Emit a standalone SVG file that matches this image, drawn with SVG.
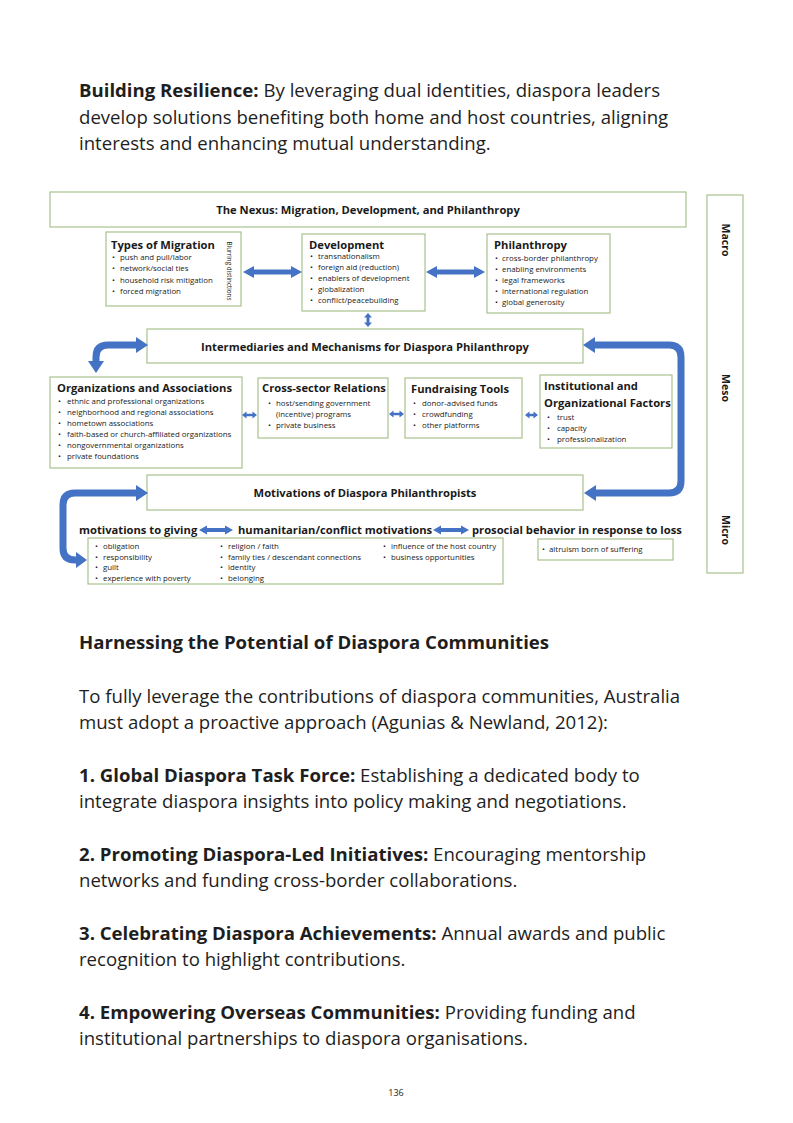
<svg xmlns="http://www.w3.org/2000/svg" width="793" height="1123" viewBox="0 0 793 1123">
<style>
.body{font-family:"Open Sans","Liberation Sans",sans-serif;font-size:18.6px;fill:#1e1e1e}
.b{font-weight:700}
.box{fill:#fff;stroke:#a9c28e;stroke-width:1.2}
.t{font-family:"Open Sans","Liberation Sans",sans-serif;font-size:11.2px;font-weight:700;fill:#1a1a1a}
.s{font-family:"Open Sans","Liberation Sans",sans-serif;font-size:7.85px;fill:#222}
.lv{font-family:"Open Sans","Liberation Sans",sans-serif;font-size:10.5px;font-weight:700;fill:#1a1a1a}
.ar{fill:#4472c4}
.ln{fill:none;stroke:#4472c4;stroke-width:7}
</style>
<rect width="793" height="1123" fill="#fff"/>

<g id="text-top" class="body">
<text x="79" y="97"><tspan class="b">Building Resilience:</tspan> By leveraging dual identities, diaspora leaders</text>
<text x="79" y="123.5">develop solutions benefiting both home and host countries, aligning</text>
<text x="79" y="150">interests and enhancing mutual understanding.</text>
</g>

<g id="levels">
<rect class="box" x="707" y="195" width="36" height="378"/>
<text class="lv" transform="translate(721.5,240) rotate(90)" text-anchor="middle">Macro</text>
<text class="lv" transform="translate(721.5,388) rotate(90)" text-anchor="middle">Meso</text>
<text class="lv" transform="translate(721.5,530) rotate(90)" text-anchor="middle">Micro</text>
</g>

<g id="nexus">
<rect class="box" x="50" y="192" width="636" height="35"/>
<text class="t" x="368" y="214" text-anchor="middle">The Nexus: Migration, Development, and Philanthropy</text>
</g>

<g id="types">
<rect class="box" x="106" y="232" width="135" height="74"/>
<text class="t" x="111" y="249">Types of Migration</text>
<text class="s" x="112" y="260">•</text><text class="s" x="120" y="260">push and pull/labor</text>
<text class="s" x="112" y="271">•</text><text class="s" x="120" y="271">network/social ties</text>
<text class="s" x="112" y="282.5">•</text><text class="s" x="120" y="282.5">household risk mitigation</text>
<text class="s" x="112" y="294">•</text><text class="s" x="120" y="294">forced migration</text>
<text class="s" style="font-size:6.3px" transform="translate(227,271) rotate(90)" text-anchor="middle">Blurring distinctions</text>
</g>

<g id="development">
<rect class="box" x="302" y="234" width="123" height="77"/>
<text class="t" x="309" y="249">Development</text>
<text class="s" x="310" y="259">•</text><text class="s" x="318" y="259">transnationalism</text>
<text class="s" x="310" y="270">•</text><text class="s" x="318" y="270">foreign aid (reduction)</text>
<text class="s" x="310" y="281">•</text><text class="s" x="318" y="281">enablers of development</text>
<text class="s" x="310" y="292">•</text><text class="s" x="318" y="292">globalization</text>
<text class="s" x="310" y="303">•</text><text class="s" x="318" y="303">conflict/peacebuilding</text>
</g>

<g id="philanthropy">
<rect class="box" x="487" y="234" width="123" height="79"/>
<text class="t" x="494" y="249">Philanthropy</text>
<text class="s" x="495" y="261">•</text><text class="s" x="502" y="261">cross-border philanthropy</text>
<text class="s" x="495" y="272">•</text><text class="s" x="502" y="272">enabling environments</text>
<text class="s" x="495" y="283">•</text><text class="s" x="502" y="283">legal frameworks</text>
<text class="s" x="495" y="294">•</text><text class="s" x="502" y="294">international regulation</text>
<text class="s" x="495" y="305">•</text><text class="s" x="502" y="305">global generosity</text>
</g>

<g id="intermediaries">
<rect class="box" x="147" y="329" width="436" height="34"/>
<text class="t" x="365" y="350.5" text-anchor="middle">Intermediaries and Mechanisms for Diaspora Philanthropy</text>
</g>

<g id="organizations">
<rect class="box" x="50" y="377" width="192" height="91"/>
<text class="t" x="57" y="392">Organizations and Associations</text>
<text class="s" x="58" y="403.5">•</text><text class="s" x="67" y="403.5">ethnic and professional organizations</text>
<text class="s" x="58" y="414.5">•</text><text class="s" x="67" y="414.5">neighborhood and regional associations</text>
<text class="s" x="58" y="425.5">•</text><text class="s" x="67" y="425.5">hometown associations</text>
<text class="s" x="58" y="437">•</text><text class="s" x="67" y="437">faith-based or church-affiliated organizations</text>
<text class="s" x="58" y="448">•</text><text class="s" x="67" y="448">nongovernmental organizations</text>
<text class="s" x="58" y="459">•</text><text class="s" x="67" y="459">private foundations</text>
</g>

<g id="cross-sector">
<rect class="box" x="258" y="378" width="130" height="60"/>
<text class="t" x="262" y="392">Cross-sector Relations</text>
<text class="s" x="268" y="405.5">•</text><text class="s" x="276" y="405.5">host/sending government</text>
<text class="s" x="276" y="416.5">(incentive) programs</text>
<text class="s" x="268" y="427.5">•</text><text class="s" x="276" y="427.5">private business</text>
</g>

<g id="fundraising">
<rect class="box" x="405" y="378" width="117" height="60"/>
<text class="t" x="411" y="392.5">Fundraising Tools</text>
<text class="s" x="413" y="405.5">•</text><text class="s" x="422" y="405.5">donor-advised funds</text>
<text class="s" x="413" y="416.5">•</text><text class="s" x="422" y="416.5">crowdfunding</text>
<text class="s" x="413" y="428">•</text><text class="s" x="422" y="428">other platforms</text>
</g>

<g id="institutional">
<rect class="box" x="540" y="375" width="132" height="73"/>
<text class="t" x="544" y="389.5">Institutional and</text>
<text class="t" x="544" y="406.5">Organizational Factors</text>
<text class="s" x="547" y="419.5">•</text><text class="s" x="557" y="419.5">trust</text>
<text class="s" x="547" y="430.5">•</text><text class="s" x="557" y="430.5">capacity</text>
<text class="s" x="547" y="441.5">•</text><text class="s" x="557" y="441.5">professionalization</text>
</g>

<g id="motivations">
<rect class="box" x="147" y="475" width="436" height="35"/>
<text class="t" x="365" y="496.5" text-anchor="middle">Motivations of Diaspora Philanthropists</text>
</g>

<g id="motivation-types">
<text class="t" x="79" y="534">motivations to giving</text>
<text class="t" x="238" y="534">humanitarian/conflict motivations</text>
<text class="t" x="472" y="534">prosocial behavior in response to loss</text>
</g>

<g id="motivation-list">
<rect class="box" x="88" y="538" width="415" height="46"/>
<text class="s" x="95" y="548.5">•</text><text class="s" x="103" y="548.5">obligation</text>
<text class="s" x="95" y="559.5">•</text><text class="s" x="103" y="559.5">responsibility</text>
<text class="s" x="95" y="570">•</text><text class="s" x="103" y="570">guilt</text>
<text class="s" x="95" y="580.5">•</text><text class="s" x="103" y="580.5">experience with poverty</text>
<text class="s" x="220" y="548.5">•</text><text class="s" x="228" y="548.5">religion / faith</text>
<text class="s" x="220" y="559.5">•</text><text class="s" x="228" y="559.5">family ties / descendant connections</text>
<text class="s" x="220" y="570">•</text><text class="s" x="228" y="570">identity</text>
<text class="s" x="220" y="580.5">•</text><text class="s" x="228" y="580.5">belonging</text>
<text class="s" x="383" y="548.5">•</text><text class="s" x="391" y="548.5">influence of the host country</text>
<text class="s" x="383" y="559.5">•</text><text class="s" x="391" y="559.5">business opportunities</text>
</g>

<g id="altruism">
<rect class="box" x="538" y="539" width="135" height="21"/>
<text class="s" x="542" y="551.5">•</text><text class="s" x="549" y="551.5">altruism born of suffering</text>
</g>

<g id="connectors">
<polygon class="ar" points="243,272 254,266 254,269.5 291,269.5 291,266 302,272 291,278 291,274.5 254,274.5 254,278"/>
<polygon class="ar" points="426,272 437,266 437,269.5 474,269.5 474,266 485,272 474,278 474,274.5 437,274.5 437,278"/>
<polygon class="ar" points="368,313 372,317.5 369.5,317.5 369.5,322.5 372,322.5 368,327 364,322.5 366.5,322.5 366.5,317.5 364,317.5"/>
<polygon class="ar" points="242,415 246.5,411.5 246.5,413.7 252.5,413.7 252.5,411.5 257,415 252.5,418.5 252.5,416.3 246.5,416.3 246.5,418.5"/>
<polygon class="ar" points="389,414 393.5,410.5 393.5,412.7 399.5,412.7 399.5,410.5 404,414 399.5,417.5 399.5,415.3 393.5,415.3 393.5,417.5"/>
<polygon class="ar" points="525,415 529.5,411.5 529.5,413.7 533.5,413.7 533.5,411.5 538,415 533.5,418.5 533.5,416.3 529.5,416.3 529.5,418.5"/>
<polygon class="ar" points="199,530 207,525.5 207,528 225,528 225,525.5 233,530 225,534.5 225,532 207,532 207,534.5"/>
<polygon class="ar" points="433,530 441,525.5 441,528 461,528 461,525.5 469,530 461,534.5 461,532 441,532 441,534.5"/>
<path class="ln" d="M137,345 H108 Q96,345 96,357 V362"/>
<polygon class="ar" points="148,345 136,337 136,353"/>
<polygon class="ar" points="96,373 88,361 104,361"/>
<path class="ln" d="M594,345 H669 Q681,345 681,357 V481 Q681,493 669,493 H594"/>
<polygon class="ar" points="583,345 595,337 595,353"/>
<polygon class="ar" points="584,493 596,485 596,501"/>
<path class="ln" d="M137,493 H75 Q63,493 63,505 V548 Q63,560 75,560 H77"/>
<polygon class="ar" points="148,493 136,485 136,501"/>
<polygon class="ar" points="87,560 76,552 76,568"/>
</g>

<g id="text-bottom" class="body">
<text class="b" x="79" y="648.5">Harnessing the Potential of Diaspora Communities</text>
<text x="79" y="702.5">To fully leverage the contributions of diaspora communities, Australia</text>
<text x="79" y="729">must adopt a proactive approach (Agunias &amp; Newland, 2012):</text>
<text x="79" y="781.5"><tspan class="b">1. Global Diaspora Task Force:</tspan> Establishing a dedicated body to</text>
<text x="79" y="808">integrate diaspora insights into policy making and negotiations.</text>
<text x="79" y="860.5"><tspan class="b">2. Promoting Diaspora-Led Initiatives:</tspan> Encouraging mentorship</text>
<text x="79" y="887">networks and funding cross-border collaborations.</text>
<text x="79" y="939.5"><tspan class="b">3. Celebrating Diaspora Achievements:</tspan> Annual awards and public</text>
<text x="79" y="966">recognition to highlight contributions.</text>
<text x="79" y="1018.5"><tspan class="b">4. Empowering Overseas Communities:</tspan> Providing funding and</text>
<text x="79" y="1045">institutional partnerships to diaspora organisations.</text>
<text x="396" y="1096" text-anchor="middle" style="font-size:9px">136</text>
</g>
</svg>
